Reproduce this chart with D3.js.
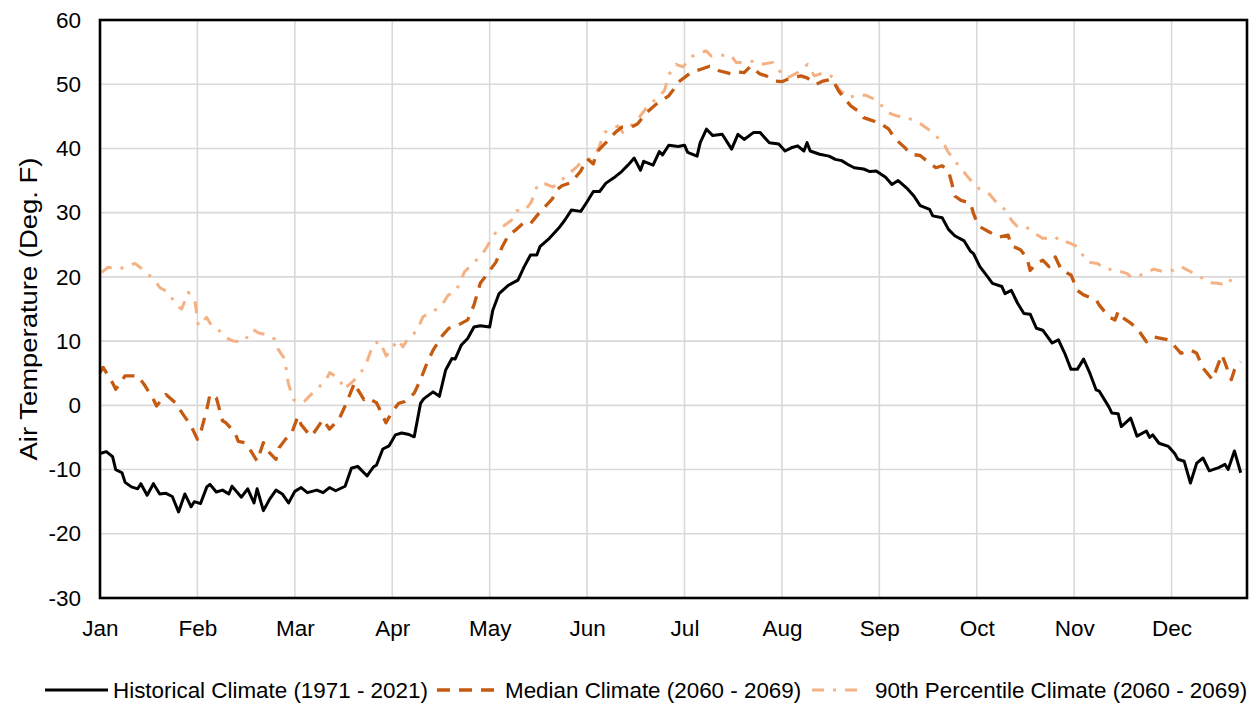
<!DOCTYPE html>
<html>
<head>
<meta charset="utf-8">
<script src="https://cdn.jsdelivr.net/npm/d3@7"></script>
<style>
  body { margin: 0; background: #fff; }
  svg { display: block; font-family: "Liberation Sans", Arial, sans-serif; }
</style>
</head>
<body>
<div id="chart"></div>
<script>
// month labels, one gridline every 31 days
const months = ["Jan", "Feb", "Mar", "Apr", "May", "Jun", "Jul", "Aug", "Sep", "Oct", "Nov", "Dec"];
const yTicks = [-30, -20, -10, 0, 10, 20, 30, 40, 50, 60];

// Historical Climate (1971 - 2021)
const histDays = [0,2,4,5,7,8,10,12,13,15,17,19,21,23,25,27,29,30,32,34,35,37,39,41,42,45,47,49,50,52,54,56,58,60,62,64,66,69,71,73,75,78,80,82,85,87,88,90,92,94,96,98,100,102,103,106,108,110,112,113,115,117,119,121,124,125,127,130,133,135,137,139,140,143,146,148,150,153,155,157,159,161,164,166,168,170,172,173,176,178,179,181,184,186,187,190,191,193,195,198,201,203,205,208,210,213,216,218,220,222,224,225,226,229,232,234,236,238,240,243,245,247,250,252,254,257,259,261,264,265,268,270,272,275,277,278,280,282,284,287,288,290,292,294,296,298,300,303,305,307,309,311,313,315,317,318,321,322,324,325,328,330,333,334,335,337,340,342,343,345,347,349,351,353,356,358,359,361,363];
const histTemp = [-7.5,-7.2,-8.0,-10.0,-10.5,-12.0,-12.7,-13.0,-12.2,-14.0,-12.2,-13.8,-13.7,-14.2,-16.6,-13.8,-15.8,-15.0,-15.3,-12.7,-12.3,-13.5,-13.2,-13.8,-12.6,-14.3,-13.0,-15.2,-13.0,-16.4,-14.6,-13.2,-13.8,-15.2,-13.4,-12.8,-13.6,-13.2,-13.6,-12.8,-13.3,-12.6,-9.8,-9.5,-11.0,-9.6,-9.3,-6.8,-6.3,-4.6,-4.3,-4.5,-4.9,0.3,1.0,2.1,1.4,5.5,7.3,7.2,9.4,10.4,12.2,12.4,12.2,14.8,17.4,18.7,19.5,21.6,23.4,23.4,24.7,26.0,27.6,28.9,30.4,30.2,31.7,33.3,33.3,34.6,35.6,36.4,37.4,38.5,36.6,38.0,37.4,39.5,39.0,40.5,40.3,40.5,39.4,38.8,40.9,43.0,42.0,42.2,39.9,42.2,41.4,42.5,42.5,40.9,40.7,39.6,40.1,40.4,39.6,40.9,39.6,39.1,38.8,38.3,38.1,37.5,37.0,36.8,36.4,36.5,35.5,34.4,35.0,33.7,32.6,31.1,30.5,29.5,29.2,27.4,26.4,25.6,24.0,23.6,21.6,20.3,19.0,18.5,17.4,17.9,15.9,14.3,14.2,12.0,11.7,9.7,10.2,8.1,5.6,5.6,7.2,5.0,2.4,2.2,-0.2,-1.2,-1.3,-3.3,-2.0,-4.8,-4.0,-5.0,-4.6,-5.9,-6.4,-7.5,-8.4,-8.7,-12.1,-9.0,-8.2,-10.2,-9.7,-9.2,-10.0,-7.1,-10.5];

// Median Climate (2060 - 2069)
const medDays = [0,1,4,5,8,12,14,17,18,21,24,26,29,31,32,34,35,37,39,40,43,44,46,48,50,52,53,56,57,59,61,63,64,67,68,71,73,76,78,81,82,84,85,88,91,93,95,97,100,102,104,106,109,111,114,117,119,121,123,126,128,130,132,135,137,140,144,145,147,150,153,155,157,158,161,164,166,169,171,174,177,181,183,184,188,191,194,197,201,203,205,207,210,212,215,217,219,223,225,228,230,233,235,237,239,241,243,246,248,251,253,256,258,261,263,266,268,270,271,272,274,277,278,279,280,283,286,289,290,293,295,296,298,300,302,304,306,309,311,313,317,318,321,323,324,325,328,330,333,335,338,340,342,344,347,349,351,354,357,358,360,361,363];
const medTemp = [5.1,5.9,3.5,2.5,4.6,4.6,3.3,0.9,-0.1,1.7,0.4,-1.1,-3.2,-5.3,-4.3,-0.6,1.7,1.2,-2.4,-2.7,-4.3,-5.6,-5.8,-7.1,-8.7,-5.8,-6.9,-8.4,-6.6,-5.3,-4.3,-1.7,-3.0,-4.8,-4.3,-2.2,-3.7,-2.2,-0.1,3.5,2.5,0.9,1.2,0.4,-2.7,-1.0,0.3,0.6,1.9,4.0,6.5,8.6,10.9,12.0,12.5,13.3,15.6,19.0,20.3,22.3,24.7,26.5,27.2,28.5,28.3,30.1,32.2,33.4,34.2,34.7,36.5,38.4,37.6,39.4,40.9,42.5,43.3,43.3,43.8,45.6,46.9,48.2,49.5,50.3,51.8,52.3,52.8,52.1,51.6,51.9,51.8,52.8,51.6,51.3,50.5,50.4,50.8,51.3,51.0,50.0,50.5,50.8,49.0,47.7,46.6,45.9,44.8,44.3,44.0,43.0,41.5,40.2,39.1,38.9,38.1,37.0,37.3,36.5,34.7,32.6,31.9,31.5,29.8,28.6,27.8,27.0,26.2,26.5,24.9,24.2,22.9,21.0,22.1,22.6,21.6,23.1,21.0,20.3,17.9,17.2,16.4,15.6,13.8,13.3,14.6,13.8,12.8,12.0,9.9,10.7,10.4,10.2,9.2,8.1,8.6,8.1,5.8,4.0,7.9,6.6,4.0,5.5,6.8];

// 90th Percentile Climate (2060 - 2069)
const p90Days = [0.5,2.6,5.8,9,11.1,14.3,17.5,19.1,21.7,24.4,26,28.1,30.2,31.3,33.9,35.5,37.6,40.3,42.4,45.6,48.8,50.3,53,55.6,56.7,58.8,59.9,61.5,63.6,65.2,67.8,70,72.1,73.1,76.3,77.4,80,82.7,84.8,86.9,89,91.1,92.7,94.8,96.4,98,100.7,102.8,107.6,109.2,110.7,113.4,116,119.2,122.4,125.6,127.2,130.9,132.5,135.1,137.2,139.4,141.5,144.1,146.8,148.9,151,153.1,155.3,158.4,160.6,162.7,164.8,166.4,168.5,171.2,174.3,177,179.6,181.2,183.3,185.5,188.6,192.9,194.5,197.1,200.8,202.4,205,208.2,210.4,214.1,216.7,218.8,222,225.2,227.3,230.5,233.7,234.7,237.9,241.1,243.7,247.5,250.6,253.3,257,261.2,264.4,268.6,269.7,272.4,275,276.6,279.8,283,285.1,287.7,290.4,292,294.6,297.8,299.9,302,304.1,305.7,307.9,311,314.2,317.4,319.5,323.8,326.9,328,331.2,335.4,338.6,341.2,343.9,347.1,350.8,352.9,355.6,358.7,360.9];
const p90Temp = [20.7,21.5,21.2,21.7,22.1,20.9,19.4,18.3,17.6,15.5,15.0,17.6,16.3,12.4,13.7,12.4,11.8,10.5,10.0,9.9,11.8,11.3,11.0,10.3,8.7,7.2,3.5,0.9,0.4,0.7,2.0,3.0,4.1,5.1,4.1,2.5,3.5,4.8,6.6,9.5,10.0,7.7,8.7,10.2,9.1,10.4,11.5,13.8,15.1,15.9,17.1,17.9,20.8,22.3,24.1,26.7,27.5,28.8,30.3,30.3,31.6,34.5,34.5,34.0,35.0,36.0,36.8,37.8,38.1,39.7,42.5,43.0,43.5,42.5,43.3,44.6,46.6,47.7,49.0,51.6,53.1,52.7,54.4,55.2,54.4,54.5,54.5,53.4,53.4,53.6,53.1,53.4,51.8,51.0,51.8,53.1,51.3,51.8,51.0,49.5,47.9,48.3,48.3,47.4,45.6,45.1,44.8,43.8,42.7,40.7,39.6,37.8,36.3,35.3,33.7,32.9,31.7,30.6,28.6,27.8,27.8,26.7,26.0,26.0,26.2,25.4,25.4,24.7,22.3,22.1,21.3,21.0,20.5,20.0,20.3,21.2,20.8,21.0,21.6,20.8,19.8,19.1,19.0,18.7,20.3];

const seriesNames = ["Historical Climate (1971 - 2021)", "Median Climate (2060 - 2069)", "90th Percentile Climate (2060 - 2069)"];

const canvas = { w: 1258, h: 704 };
const plot = { left: 100, right: 1247, top: 20, bottom: 598 };

const svg = d3.select("#chart")
    .append("svg")
    .attr("width", canvas.w)
    .attr("height", canvas.h);

const x = d3.scaleLinear().domain([0, 365]).range([plot.left, plot.right]);
const y = d3.scaleLinear().domain([-30, 60]).range([plot.bottom, plot.top]);

const monthDays = months.map((m, i) => i * 31);

// gridlines
const grid = svg.append("g").attr("stroke", "#d9d9d9").attr("stroke-width", 1.6);
grid.selectAll("line.h")
    .data(yTicks.slice(1, -1))
    .join("line")
    .attr("class", "h")
    .attr("x1", plot.left).attr("x2", plot.right)
    .attr("y1", d => y(d)).attr("y2", d => y(d));
grid.selectAll("line.v")
    .data(monthDays.slice(1))
    .join("line")
    .attr("class", "v")
    .attr("x1", d => x(d)).attr("x2", d => x(d))
    .attr("y1", plot.top).attr("y2", plot.bottom);

// axes (tick labels only, lines drawn by the frame)
const yAxis = svg.append("g")
    .attr("transform", `translate(${plot.left},0)`)
    .call(d3.axisLeft(y).tickValues(yTicks).tickFormat(d => String(d)).tickSize(0).tickPadding(19));
const xAxis = svg.append("g")
    .attr("transform", `translate(0,${plot.bottom})`)
    .call(d3.axisBottom(x).tickValues(monthDays).tickFormat((d, i) => months[i]).tickSize(0).tickPadding(22));
[yAxis, xAxis].forEach(a => {
    a.select(".domain").remove();
    a.selectAll("text")
        .attr("fill", "#000")
        .style("font-size", "22.5px")
        .style("font-family", "'Liberation Sans', Arial, sans-serif");
});

svg.append("text")
    .attr("transform", `translate(37,${(plot.top + plot.bottom) / 2}) rotate(-90)`)
    .attr("text-anchor", "middle")
    .attr("font-size", 23)
    .attr("textLength", 303)
    .attr("lengthAdjust", "spacingAndGlyphs")
    .text("Air Temperature (Deg. F)");

// series
const styles = [
    { color: "#000000", width: 3, dash: null },
    { color: "#c55a11", width: 3.3, dash: "13,9" },
    { color: "#f4b183", width: 3, dash: "12,9,3,9" }
];
const seriesData = [
    histDays.map((d, i) => [d, histTemp[i]]),
    medDays.map((d, i) => [d, medTemp[i]]),
    p90Days.map((d, i) => [d, p90Temp[i]])
];

const line = d3.line()
    .x(d => x(d[0]))
    .y(d => y(d[1]));

svg.append("g")
    .selectAll("path")
    .data([2, 1, 0])
    .join("path")
    .attr("d", i => line(seriesData[i]))
    .attr("fill", "none")
    .attr("stroke", i => styles[i].color)
    .attr("stroke-width", i => styles[i].width)
    .attr("stroke-dasharray", i => styles[i].dash)
    .attr("stroke-linejoin", "round");

// plot frame
svg.append("rect")
    .attr("x", plot.left).attr("y", plot.top)
    .attr("width", plot.right - plot.left)
    .attr("height", plot.bottom - plot.top)
    .attr("fill", "none")
    .attr("stroke", "#000")
    .attr("stroke-width", 2.6);

// legend
const legend = svg.append("g").attr("font-size", 22.4);
const legY = 690;
const legLineX = [45, 437, 812];
const legLineLen = [63, 60, 52];
const legTextX = [113, 505, 875];
seriesNames.forEach((name, i) => {
    legend.append("line")
        .attr("x1", legLineX[i]).attr("x2", legLineX[i] + legLineLen[i])
        .attr("y1", legY).attr("y2", legY)
        .attr("stroke", styles[i].color)
        .attr("stroke-width", styles[i].width)
        .attr("stroke-dasharray", styles[i].dash);
    legend.append("text")
        .attr("x", legTextX[i]).attr("y", legY + 8)
        .text(name);
});
</script>
</body>
</html>
